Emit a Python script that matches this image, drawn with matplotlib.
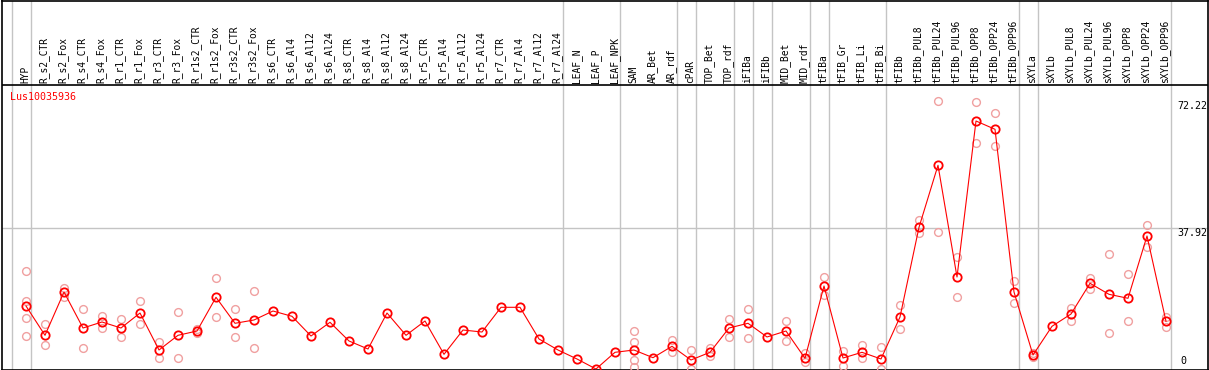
import matplotlib
matplotlib.use("Agg")
import matplotlib.pyplot as plt
import numpy as np

gene = "Lus10035936"

categories = [
    "HYP",
    "R_s2_CTR", "R_s2_Fox", "R_s4_CTR", "R_s4_Fox", "R_r1_CTR", "R_r1_Fox",
    "R_r3_CTR", "R_r3_Fox", "R_r1s2_CTR", "R_r1s2_Fox", "R_r3s2_CTR", "R_r3s2_Fox",
    "R_s6_CTR", "R_s6_Al4", "R_s6_Al12", "R_s6_Al24",
    "R_s8_CTR", "R_s8_Al4", "R_s8_Al12", "R_s8_Al24",
    "R_r5_CTR", "R_r5_Al4", "R_r5_Al12", "R_r5_Al24",
    "R_r7_CTR", "R_r7_Al4", "R_r7_Al12", "R_r7_Al24",
    "LEAF_N", "LEAF_P", "LEAF_NPK",
    "SAM", "AR_Bet", "AR_rdf",
    "cPAR",
    "TOP_Bet", "TOP_rdf",
    "iFIBa",
    "iFIBb",
    "MID_Bet", "MID_rdf",
    "tFIBa",
    "tFIB_Gr", "tFIB_Li", "tFIB_Bi",
    "tFIBb", "tFIBb_PUL8", "tFIBb_PUL24", "tFIBb_PUL96", "tFIBb_OPP8", "tFIBb_OPP24", "tFIBb_OPP96",
    "sXYLa",
    "sXYLb", "sXYLb_PUL8", "sXYLb_PUL24", "sXYLb_PUL96", "sXYLb_OPP8", "sXYLb_OPP24", "sXYLb_OPP96",
]

# sizes of the sample groups separated by vertical lines
group_sizes = [1, 28, 3, 3, 1, 2, 1, 1, 2, 1, 3, 7, 1, 7]

means = [
    16.98,
    9.08, 20.75, 11.05, 12.67, 11.05, 15.09, 5.12, 9.08, 10.24, 19.33, 12.32, 13.21,
    15.63, 14.20, 8.89, 12.59,
    7.55, 5.39, 15.09, 9.08,
    12.94, 3.96, 10.51, 9.97,
    16.63, 16.63, 8.09, 5.12,
    2.70, 0.00, 4.50,
    5.12, 3.05, 6.12,
    2.43,
    4.50, 11.05,
    12.32,
    8.63,
    10.24, 2.88,
    22.37,
    2.96, 4.50, 2.70,
    14.02, 38.19, 54.91, 24.80, 66.85, 64.61, 20.75,
    3.77,
    11.51, 14.82, 23.10, 20.13, 19.06, 35.85, 12.86,
]

replicates = [
    [26.42, 18.33, 13.67, 8.89],
    [12.05, 6.39], [21.83, 19.33], [16.17, 5.66], [14.20, 10.97], [13.48, 8.54],
    [18.33, 12.13], [7.28, 2.96], [15.36, 2.96], [10.86, 9.70], [24.45, 13.94],
    [16.17, 8.63], [21.02, 5.66],
    [], [], [], [],
    [], [], [], [],
    [], [], [], [],
    [], [], [], [],
    [], [], [],
    [10.24, 7.20, 2.43, 0.62], [], [7.82, 4.66],
    [5.04, 0.00],
    [5.58, 3.50], [13.48, 8.54],
    [16.17, 8.27],
    [],
    [12.94, 7.47], [4.23, 1.81],
    [24.72, 19.95],
    [4.85, 0.81], [6.39, 2.88], [5.85, 0.00],
    [17.17, 10.70], [40.08, 36.58], [72.22, 36.85], [30.11, 19.33], [71.90, 60.84], [68.92, 60.03], [23.72, 17.71],
    [4.23, 3.23],
    [], [16.36, 12.86], [24.53, 21.48], [30.92, 9.62], [25.53, 12.86], [38.73, 32.80], [14.10, 11.40],
]

y_marks = [72.22, 37.92, 0]

# ---------------- layout ----------------
W, H = 1209, 370
fig = plt.figure(figsize=(W / 100, H / 100), dpi=100)
ax = fig.add_axes([1.5 / W, 0.5 / H, 1206.5 / W, 369 / H])

pitch = 19.0
x0px = 26.0
def px_to_x(px):
    return (px - x0px) / pitch

scale = 3.71   # px per unit
zero_px = 369.0
def py_to_v(py):
    return (zero_px - py) / scale

ax.set_xlim(px_to_x(1.5), px_to_x(1208))
ax.set_ylim(py_to_v(369.5), py_to_v(0.5))

for s in ax.spines.values():
    s.set_color("black")
    s.set_linewidth(1.2)
ax.set_xticks([])
ax.set_yticks([])

n = len(categories)
x = np.arange(n)

# group separators
bounds = np.concatenate([[0], np.cumsum(group_sizes)])
for b in bounds:
    ax.axvline(b - 0.763, color="#c4c4c4", lw=1.0, zorder=1)

# horizontal gridline
ax.axhline(y_marks[1], color="#c4c4c4", lw=1.0, zorder=1)

# header separator
ax.axhline(py_to_v(85), color="black", lw=1.2, zorder=2)

# header labels
for i, c in enumerate(categories):
    ax.text(i - 0.05, py_to_v(83.5), c, rotation=90, ha="center", va="bottom",
            fontsize=6.9, family="DejaVu Sans Mono", color="black")

# replicates
rx, ry = [], []
for i, reps in enumerate(replicates):
    for r in reps:
        rx.append(i)
        ry.append(r)
ax.plot(rx, ry, linestyle="none", marker="o", markersize=5.6, markerfacecolor="none",
        markeredgecolor="#f0a0a0", markeredgewidth=1.0, zorder=3)

# means
ax.plot(x, means, color="#ff0000", lw=0.8, zorder=4)
ax.plot(x, means, linestyle="none", marker="o", markersize=6.0, markerfacecolor="none",
        markeredgecolor="#ff0000", markeredgewidth=1.3, zorder=5)

# gene name
ax.text(px_to_x(10), py_to_v(97), gene, color="#ff0000", fontsize=7.2,
        family="DejaVu Sans Mono", ha="left", va="center")

# y labels at right
xl = px_to_x(1177)
ax.text(xl, y_marks[0], f"{y_marks[0]:.2f}", fontsize=7.2, family="DejaVu Sans Mono",
        ha="left", va="top")
ax.text(xl, y_marks[1], f"{y_marks[1]:.2f}", fontsize=7.2, family="DejaVu Sans Mono",
        ha="left", va="top")
ax.text(px_to_x(1180), py_to_v(366), f"{y_marks[2]}", fontsize=7.2, family="DejaVu Sans Mono",
        ha="left", va="bottom")

fig.savefig("out.png", dpi=100)
